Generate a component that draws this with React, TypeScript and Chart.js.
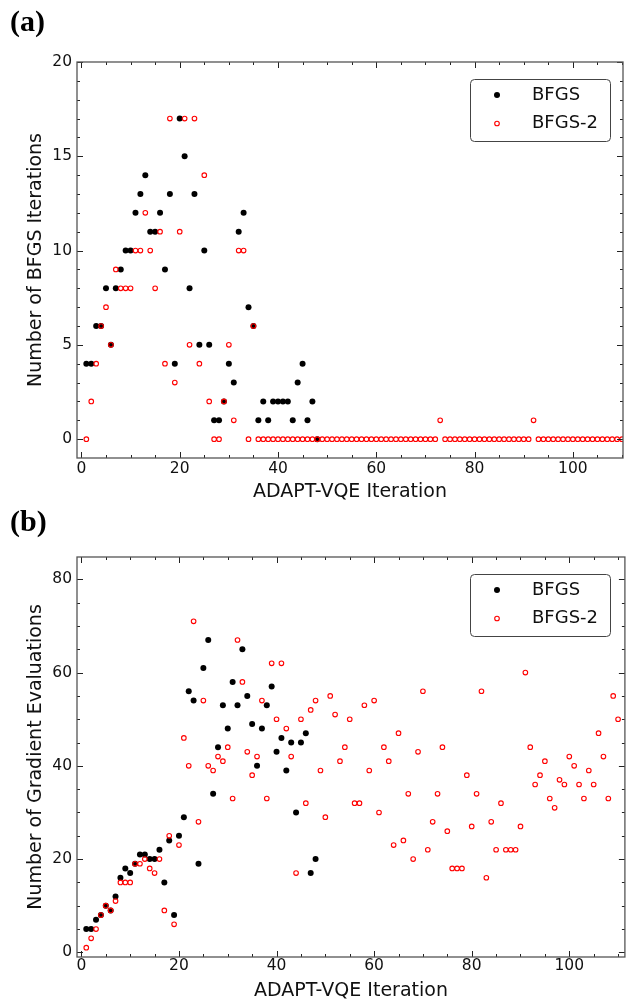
import React, { useEffect, useRef } from "react";
import { Chart, registerables } from "chart.js";

Chart.register(...registerables);

// ---------- data ----------
const seriesNames = ["BFGS", "BFGS-2"];
const xTitle = "ADAPT-VQE Iteration";
const topYTitle = "Number of BFGS Iterations";
const botYTitle = "Number of Gradient Evaluations";
const xMajorTicks = [0, 20, 40, 60, 80, 100];
const topYTicks = [0, 5, 10, 15, 20];
const botYTicks = [0, 20, 40, 60, 80];

// (a) BFGS iterations per ADAPT-VQE iteration (iteration 1..N)
const topBFGS = [
  4, 4, 6, 6, 8, 5, 8, 9, 10, 10,
  12, 13, 14, 11, 11, 12, 9, 13, 4, 17,
  15, 8, 13, 5, 10, 5, 1, 1, 2, 4,
  3, 11, 12, 7, 6, 1, 2, 1, 2, 2,
  2, 2, 1, 3, 4, 1, 2, 0,
];
const topBFGS2 = [
  0, 2, 4, 6, 7, 5, 9, 8, 8, 8,
  10, 10, 12, 10, 8, 11, 4, 17, 3, 11,
  17, 5, 17, 4, 14, 2, 0, 0, 2, 5,
  1, 10, 10, 0, 6, 0, 0, 0, 0, 0,
  0, 0, 0, 0, 0, 0, 0, 0, 0, 0,
  0, 0, 0, 0, 0, 0, 0, 0, 0, 0,
  0, 0, 0, 0, 0, 0, 0, 0, 0, 0,
  0, 0, 1, 0, 0, 0, 0, 0, 0, 0,
  0, 0, 0, 0, 0, 0, 0, 0, 0, 0,
  0, 1, 0, 0, 0, 0, 0, 0, 0, 0,
  0, 0, 0, 0, 0, 0, 0, 0, 0, 0,
];

// (b) gradient evaluations per ADAPT-VQE iteration
const botBFGS = [
  5, 5, 7, 8, 10, 9, 12, 16, 18, 17,
  19, 21, 21, 20, 20, 22, 15, 24, 8, 25,
  29, 56, 54, 19, 61, 67, 34, 44, 53, 48,
  58, 53, 65, 55, 49, 40, 48, 53, 57, 43,
  46, 39, 45, 30, 45, 47, 17, 20,
];
const botBFGS2 = [
  1, 3, 5, 8, 10, 9, 11, 15, 15, 15,
  19, 19, 20, 18, 17, 20, 9, 25, 6, 23,
  46, 40, 71, 28, 54, 40, 39, 42, 41, 44,
  33, 67, 58, 43, 38, 42, 54, 33, 62, 50,
  62, 48, 42, 17, 50, 32, 52, 54, 39, 29,
  55, 51, 41, 44, 50, 32, 32, 53, 39, 54,
  30, 44, 41, 23, 47, 24, 34, 20, 43, 56,
  22, 28, 34, 44, 26, 18, 18, 18, 38, 27,
  34, 56, 16, 28, 22, 32, 22, 22, 22, 27,
  60, 44, 36, 38, 41, 33, 31, 37, 36, 42,
  40, 36, 33, 39, 36, 47, 42, 33, 55, 50,
];

const toPoints = (vals: number[]) => vals.map((v, i) => ({ x: i + 1, y: v }));

const FONT = "'DejaVu Sans', Verdana, sans-serif";

type PanelOpts = {
  canvasH: number;
  bfgs: number[];
  bfgs2: number[];
  yTitle: string;
  yTicks: number[];
  yMinorStep: number;
  xMin: number;
  xMax: number;
  yMin: number;
  yMax: number;
  padTop: number;
  padRight: number;
  xAxisH: number;
  xTickPad: number;
  xTitlePadBottom: number;
  panelLabel: string;
  panelLabelY: number;
  legendTop: number;
};

function drawRedRing(ctx: CanvasRenderingContext2D, x: number, y: number) {
  ctx.beginPath();
  ctx.arc(x, y, 2.3, 0, Math.PI * 2);
  ctx.strokeStyle = "#ff0000";
  ctx.lineWidth = 1.1;
  ctx.stroke();
}

function makeDecor(o: PanelOpts) {
  return {
    id: "decor",
    afterDraw(chart: any) {
      const { ctx, chartArea: a, scales } = chart;
      const xs = scales.x;
      const ys = scales.y;
      ctx.save();
      // inward tick marks on all four sides
      ctx.strokeStyle = "#222";
      ctx.lineWidth = 1;
      const seg = (x1: number, y1: number, x2: number, y2: number) => {
        ctx.beginPath();
        ctx.moveTo(x1, y1);
        ctx.lineTo(x2, y2);
        ctx.stroke();
      };
      const xTick = (v: number, len: number) => {
        const p = Math.round(xs.getPixelForValue(v)) + 0.5;
        seg(p, a.bottom, p, a.bottom - len);
        seg(p, a.top, p, a.top + len);
      };
      const yTick = (v: number, len: number) => {
        const p = Math.round(ys.getPixelForValue(v)) + 0.5;
        seg(a.left, p, a.left + len, p);
        seg(a.right, p, a.right - len, p);
      };
      for (let v = 0; v <= o.xMax + 1e-9; v += 5) {
        xTick(v, xMajorTicks.includes(v) ? 6 : 3);
      }
      for (let v = 0; v <= o.yMax + 1e-9; v += o.yMinorStep) {
        yTick(v, o.yTicks.includes(v) ? 6 : 3);
      }
      // frame
      ctx.strokeStyle = "#555";
      ctx.lineWidth = 1.3;
      ctx.strokeRect(a.left, a.top, a.right - a.left, a.bottom - a.top);

      // legend
      const lx = 470.5;
      const ly = o.legendTop + 0.5;
      const lw = 140;
      const lh = 62;
      ctx.beginPath();
      (ctx as any).roundRect(lx, ly, lw, lh, 4);
      ctx.fillStyle = "#fff";
      ctx.fill();
      ctx.strokeStyle = "#444";
      ctx.lineWidth = 1;
      ctx.stroke();
      const r1 = ly + 15.5;
      const r2 = ly + 44;
      ctx.beginPath();
      ctx.arc(497, r1, 3, 0, Math.PI * 2);
      ctx.fillStyle = "#000";
      ctx.fill();
      drawRedRing(ctx, 497, r2);
      ctx.fillStyle = "#111";
      ctx.font = `18px ${FONT}`;
      ctx.textBaseline = "middle";
      ctx.textAlign = "left";
      ctx.fillText(seriesNames[0], 532, r1);
      ctx.fillText(seriesNames[1], 532, r2);

      // panel label
      ctx.font = "bold 30px 'Liberation Serif', 'Times New Roman', serif";
      ctx.textBaseline = "alphabetic";
      ctx.fillStyle = "#000";
      ctx.fillText(o.panelLabel, 10, o.panelLabelY);
      ctx.restore();
    },
  };
}

function Panel({ o }: { o: PanelOpts }) {
  const ref = useRef<HTMLCanvasElement | null>(null);
  useEffect(() => {
    if (!ref.current) return;
    const chart = new Chart(ref.current, {
      type: "scatter",
      data: {
        datasets: [
          {
            label: seriesNames[0],
            data: toPoints(o.bfgs),
            pointRadius: 3,
            pointBackgroundColor: "#000",
            pointBorderWidth: 0,
            order: 2,
          },
          {
            label: seriesNames[1],
            data: toPoints(o.bfgs2),
            pointRadius: 2.3,
            pointBackgroundColor: "rgba(0,0,0,0)",
            pointBorderColor: "#ff0000",
            pointBorderWidth: 1.1,
            order: 1,
          },
        ],
      },
      options: {
        animation: false,
        responsive: false,
        devicePixelRatio: 1,
        events: [],
        layout: { padding: { top: o.padTop, right: o.padRight, left: 0, bottom: 0 } },
        plugins: { legend: { display: false }, tooltip: { enabled: false } },
        scales: {
          x: {
            type: "linear",
            min: o.xMin,
            max: o.xMax,
            bounds: "data",
            grid: { display: false, drawTicks: false },
            border: { display: false },
            ticks: { autoSkip: false, padding: o.xTickPad, color: "#111", font: { family: FONT, size: 15.5 }, maxRotation: 0 },
            afterBuildTicks: (s: any) => {
              s.ticks = xMajorTicks.map((v) => ({ value: v }));
            },
            afterFit: (s: any) => {
              s.height = o.xAxisH;
            },
            title: {
              display: true,
              text: xTitle,
              color: "#111",
              font: { family: FONT, size: 19, lineHeight: 1.2 },
              padding: { top: 0, bottom: o.xTitlePadBottom },
            },
          },
          y: {
            type: "linear",
            min: o.yMin,
            max: o.yMax,
            bounds: "data",
            grid: { display: false, drawTicks: false },
            border: { display: false },
            ticks: { autoSkip: false, padding: 5, color: "#111", font: { family: FONT, size: 15.5 } },
            afterBuildTicks: (s: any) => {
              s.ticks = o.yTicks.map((v) => ({ value: v }));
            },
            afterFit: (s: any) => {
              s.width = 77;
            },
            title: {
              display: true,
              text: o.yTitle,
              color: "#111",
              font: { family: FONT, size: 19, lineHeight: 1.2 },
              padding: { top: 25, bottom: 0 },
            },
          },
        },
      },
      plugins: [makeDecor(o)],
    } as any);
    return () => chart.destroy();
  }, [o]);
  return <canvas ref={ref} width={630} height={o.canvasH} style={{ display: "block", width: 630, height: o.canvasH }} />;
}

const topOpts: PanelOpts = {
  canvasH: 505,
  bfgs: topBFGS,
  bfgs2: topBFGS2,
  yTitle: topYTitle,
  yTicks: topYTicks,
  yMinorStep: 1,
  xMin: -0.9,
  xMax: 110.2,
  yMin: -1,
  yMax: 20,
  padTop: 62,
  padRight: 7,
  xAxisH: 47,
  xTickPad: 2,
  xTitlePadBottom: 2,
  panelLabel: "(a)",
  panelLabelY: 30.5,
  legendTop: 79,
};

const botOpts: PanelOpts = {
  canvasH: 497,
  bfgs: botBFGS,
  bfgs2: botBFGS2,
  yTitle: botYTitle,
  yTicks: botYTicks,
  yMinorStep: 5,
  xMin: -0.9,
  xMax: 111.4,
  yMin: -1,
  yMax: 84.8,
  padTop: 52,
  padRight: 1,
  xAxisH: 45,
  xTickPad: 0,
  xTitlePadBottom: 0,
  panelLabel: "(b)",
  panelLabelY: 25.5,
  legendTop: 69,
};

export default function App() {
  return (
    <div style={{ position: "absolute", left: 0, top: 0, width: 630, height: 1002, background: "#fff", overflow: "hidden" }}>
      <div style={{ position: "absolute", left: 0, top: 0 }}>
        <Panel o={topOpts} />
      </div>
      <div style={{ position: "absolute", left: 0, top: 505 }}>
        <Panel o={botOpts} />
      </div>
    </div>
  );
}
